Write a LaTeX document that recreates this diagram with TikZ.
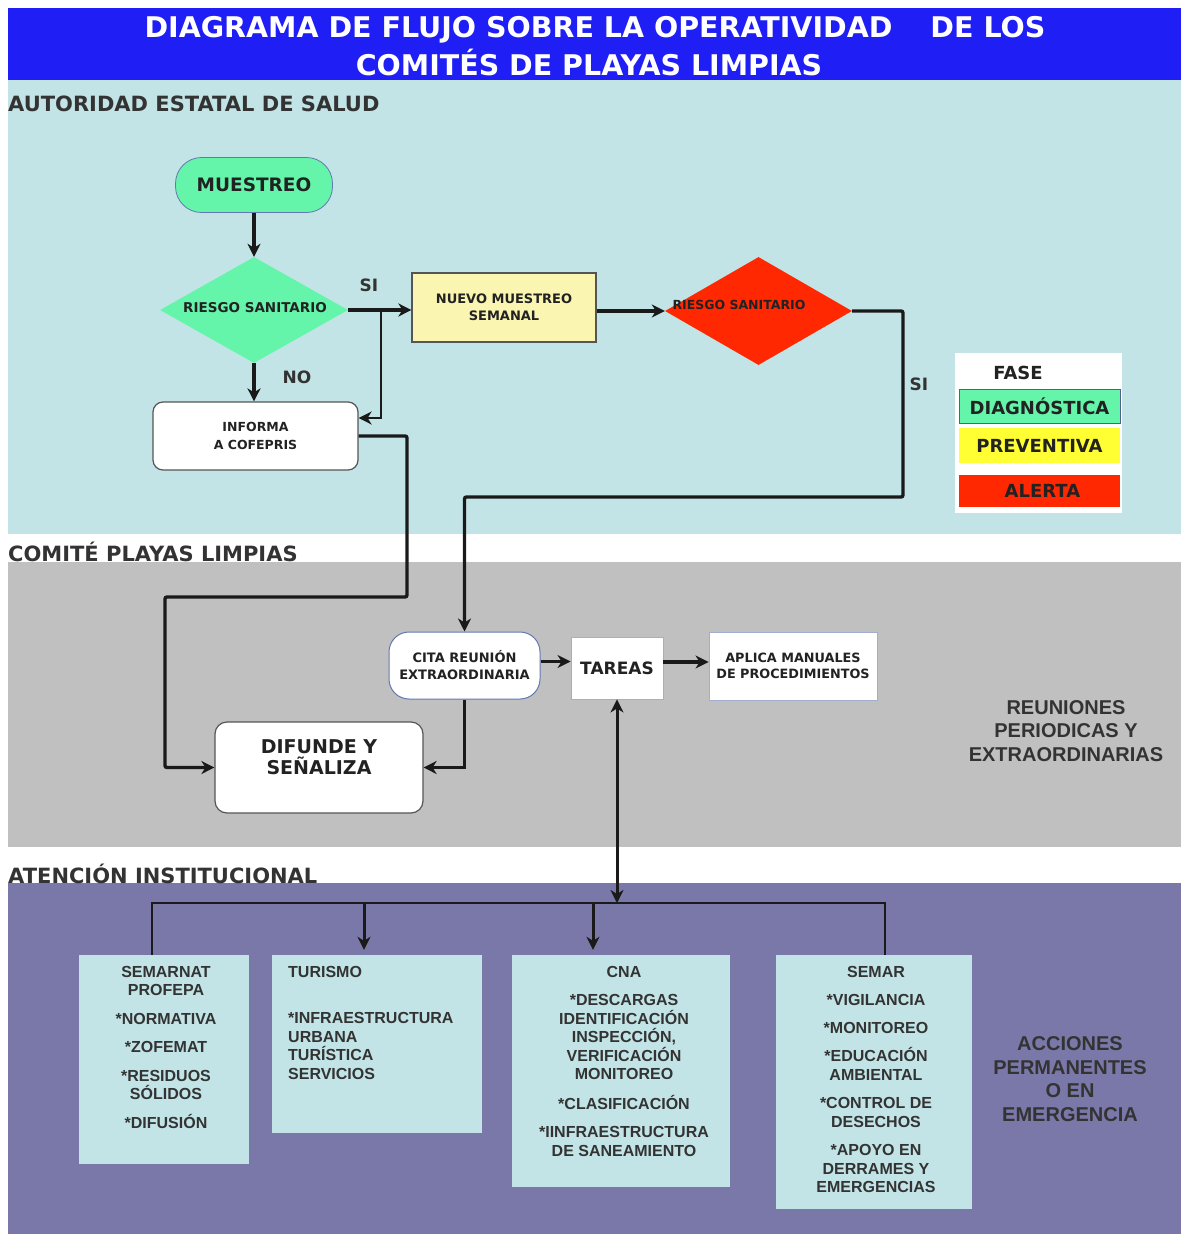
\documentclass[tikz,border=0pt]{standalone}
\usepackage{fontspec}
\setmainfont{DejaVu Sans}
\newfontfamily\arialf{Liberation Sans}
\usetikzlibrary{arrows.meta,shapes.geometric,calc}
\definecolor{titleblue}{RGB}{30,30,245}
\definecolor{bandcyan}{RGB}{194,228,230}
\definecolor{bandgray}{RGB}{192,192,192}
\definecolor{bandpurple}{RGB}{122,120,168}
\definecolor{mint}{RGB}{100,245,170}
\definecolor{paleyellow}{RGB}{250,246,178}
\definecolor{alertred}{RGB}{255,40,0}
\definecolor{legyellow}{RGB}{255,255,51}
\definecolor{ink}{HTML}{222222}
\definecolor{labelink}{HTML}{333333}
\definecolor{lineink}{HTML}{1A1A1A}
\definecolor{bluish}{RGB}{100,120,175}
\definecolor{boxedge}{HTML}{555555}
\begin{document}
\begin{tikzpicture}[x=1pt,y=-1pt,
  >={Stealth[length=13pt,width=13pt,inset=4pt]},
  conn/.style={draw=lineink, line width=3.4pt, ->},
  thinl/.style={draw=lineink, line width=2pt},
  titletxt/.style={font=\bfseries\fontsize{28.5}{30}\selectfont, text=white, inner sep=0pt, anchor=base},
  seclabel/.style={font=\bfseries\fontsize{21}{23}\selectfont, text=labelink, inner sep=0pt, anchor=base west},
  ftxt/.style={font=\bfseries\fontsize{13}{17}\selectfont, text=ink, align=center, inner sep=1pt},
  bigtxt/.style={font=\bfseries\fontsize{19}{21}\selectfont, text=ink, align=center, inner sep=0pt},
  lbl/.style={font=\bfseries\fontsize{17}{19}\selectfont, text=labelink, inner sep=0pt},
  legtxt/.style={font=\bfseries\fontsize{18}{20}\selectfont, text=ink, inner sep=0pt},
  legbox/.style={legtxt, minimum width=161pt, inner sep=0pt},
  arialtxt/.style={font=\arialf\bfseries\fontsize{20}{23.5}\selectfont, text=labelink, align=center, inner sep=0pt},
  insttxt/.style={font=\arialf\bfseries\fontsize{16}{18.5}\selectfont, text=labelink, inner sep=0pt, anchor=north},
  instbox/.style={fill=bandcyan, inner sep=0pt},
  whitebox/.style={fill=white, draw=boxedge, line width=1.2pt, inner sep=2pt}
]
\useasboundingbox (0,0) rectangle (1181,1234);
\fill[white] (0,0) rectangle (1181,1234);
% bands
\fill[titleblue] (8,8) rectangle (1181,80);
\fill[bandcyan] (8,80) rectangle (1181,534);
\fill[bandgray] (8,562) rectangle (1181,847);
\fill[bandpurple] (8,883) rectangle (1181,1234);

% titles
\node[titletxt] (title1) at (595,37.5) {DIAGRAMA DE FLUJO SOBRE LA OPERATIVIDAD\hspace{38pt}DE LOS};
\node[titletxt] (title2) at (589,75.5) {COMITÉS DE PLAYAS LIMPIAS};

\node[seclabel] (sec1) at (8,111.5) {AUTORIDAD ESTATAL DE SALUD};
\node[seclabel] (sec2) at (8,561.5) {COMITÉ PLAYAS LIMPIAS};
\node[seclabel] (sec3) at (8,883.5) {ATENCIÓN INSTITUCIONAL};

% top flow
\node[fill=mint, draw=bluish, line width=0.8pt, rounded corners=26pt,
      minimum width=157pt, minimum height=55pt, inner sep=0pt,
      font=\bfseries\fontsize{18.5}{20}\selectfont, text=ink] (muestreo) at (254,185) {MUESTREO};

\node[diamond, fill=mint, minimum width=188pt, minimum height=106pt, inner sep=0pt] (d1) at (254,310) {};
\node[ftxt, font=\bfseries\fontsize{13.5}{17}\selectfont] (d1t) at (255,308) {RIESGO SANITARIO};

\node[whitebox, rounded corners=10pt, minimum width=205pt, minimum height=68pt,
      ftxt, font=\bfseries\fontsize{12.5}{18}\selectfont] (informa) at (255.5,436) {INFORMA\\A COFEPRIS};

\node[fill=paleyellow, draw=boxedge, line width=1.2pt, minimum width=184pt, minimum height=69pt,
      ftxt] (nuevo) at (504,307.5) {NUEVO MUESTREO\\SEMANAL};

\node[diamond, fill=alertred, minimum width=187pt, minimum height=108pt, inner sep=0pt] (d2) at (758.5,311) {};
\node[ftxt, font=\bfseries\fontsize{12.5}{17}\selectfont] (d2t) at (739,305) {RIESGO SANITARIO};

\node[lbl] (si1) at (369,285) {SI};
\node[lbl] (no1) at (297,377) {NO};
\node[lbl] (si2) at (919,384) {SI};

% legend
\node[fill=white, minimum width=167pt, minimum height=160pt, inner sep=0pt] (legend) at (1038.5,433) {};
\node[legtxt] (fase) at (1018,373) {FASE};
\node[legbox, fill=mint, draw=bluish!80!black, line width=1pt, minimum height=34pt] (ldiag) at (1039.5,406) {\raisebox{-3pt}{DIAGNÓSTICA}};
\node[legbox, fill=legyellow, minimum height=35pt] (lprev) at (1039.5,445.5) {PREVENTIVA};
\node[legbox, fill=alertred, minimum height=32pt] (lalert) at (1039.5,491) {\hspace{6pt}ALERTA};

% middle flow
\node[fill=white, draw=bluish, line width=1pt, rounded corners=20pt,
      minimum width=151pt, minimum height=67pt, ftxt] (cita) at (464.5,665.5) {CITA REUNIÓN\\EXTRAORDINARIA};
\node[fill=white, draw=bluish!60, line width=0.9pt, minimum width=92pt, minimum height=62pt,
      font=\bfseries\fontsize{17}{19}\selectfont, text=ink, inner sep=0pt] (tareas) at (617,668) {\raisebox{-4pt}{TAREAS}};
\node[fill=white, draw=bluish!60, line width=0.9pt, minimum width=168pt, minimum height=68pt,
      ftxt, font=\bfseries\fontsize{12.8}{16}\selectfont] (aplica) at (793,666) {APLICA MANUALES\\DE PROCEDIMIENTOS};
\node[whitebox, rounded corners=12pt, minimum width=208pt, minimum height=91pt] (difunde) at (319,767.5) {};
\node[bigtxt] (difundet) at (319,757) {DIFUNDE Y\\SEÑALIZA};

\node[arialtxt] (reuniones) at (1066,731) {REUNIONES\\PERIODICAS Y\\EXTRAORDINARIAS};

% institutional boxes
\node[instbox, minimum width=170pt, minimum height=209pt] (semarnat) at (164,1059.5) {};
\node[instbox, minimum width=210pt, minimum height=178pt] (turismo) at (377,1044) {};
\node[instbox, minimum width=218pt, minimum height=232pt] (cna) at (621,1071) {};
\node[instbox, minimum width=196pt, minimum height=254pt] (semar) at (874,1082) {};

\node[insttxt, align=center] (semarnatt) at (166,966) {SEMARNAT\\PROFEPA\\[10pt]*NORMATIVA\\[10pt]*ZOFEMAT\\[10pt]*RESIDUOS\\SÓLIDOS\\[10pt]*DIFUSIÓN};
\node[insttxt, align=left, anchor=north west] (turismot) at (288,966) {TURISMO\\[28pt]*INFRAESTRUCTURA\\URBANA\\TURÍSTICA\\SERVICIOS};
\node[insttxt, align=center] (cnat) at (624,966) {CNA\\[10pt]*DESCARGAS\\IDENTIFICACIÓN\\INSPECCIÓN,\\VERIFICACIÓN\\MONITOREO\\[11pt]*CLASIFICACIÓN\\[10pt]*IINFRAESTRUCTURA\\DE SANEAMIENTO};
\node[insttxt, align=center] (semart) at (876,966) {SEMAR\\[10pt]*VIGILANCIA\\[9pt]*MONITOREO\\[10pt]*EDUCACIÓN\\AMBIENTAL\\[10pt]*CONTROL DE\\DESECHOS\\[10pt]*APOYO EN\\DERRAMES Y\\EMERGENCIAS};

\node[arialtxt] (acciones) at (1070,1079) {ACCIONES\\PERMANENTES\\O EN\\EMERGENCIA};

% connectors top
\draw[conn] (muestreo.south -| d1.north) -- (d1.north);
\draw[conn] (d1.east) -- (d1.east -| nuevo.west);
\coordinate (br) at (381,310);
\coordinate (bri) at (381,418);
\draw[conn, line width=2pt] (br) -- (bri) -- (bri -| informa.east);
\draw[conn] (d1.south) -- (d1.south |- informa.north);
\draw[conn] (nuevo.east |- d2.west) -- (d2.west);
\coordinate (r1) at (903,497);
\draw[conn, rounded corners=2pt] (d2.east) -| (r1) -| (cita.north);
\coordinate (l1) at (407,597);
\coordinate (l2) at (165,597);
\draw[conn, rounded corners=2pt] (informa.east) -| (l1) -- (l2) |- (difunde.west);
\draw[conn] (cita.south) |- (difunde.east);
\draw[conn] ([yshift=4pt]cita.east) -- ([yshift=4pt]cita.east -| tareas.west);
\draw[conn] ([yshift=6pt]tareas.east) -- ([yshift=6pt]tareas.east -| aplica.west);

% connectors bottom
\coordinate (hub) at (617,903);
\draw[conn, line width=3pt, <->] (tareas.south) -- (hub);
\coordinate (hl) at (152,903);
\coordinate (hr) at (885,903);
\draw[thinl] (semarnat.north -| hl) -- (hl) -- (hr) -- (semar.north -| hr);
\coordinate (t1) at (364,903);
\coordinate (t2) at (593,903);
\draw[conn, line width=3pt] (t1) -- ([yshift=5pt]turismo.north -| t1);
\draw[conn, line width=3pt] (t2) -- ([yshift=5pt]cna.north -| t2);
\end{tikzpicture}
\end{document}
